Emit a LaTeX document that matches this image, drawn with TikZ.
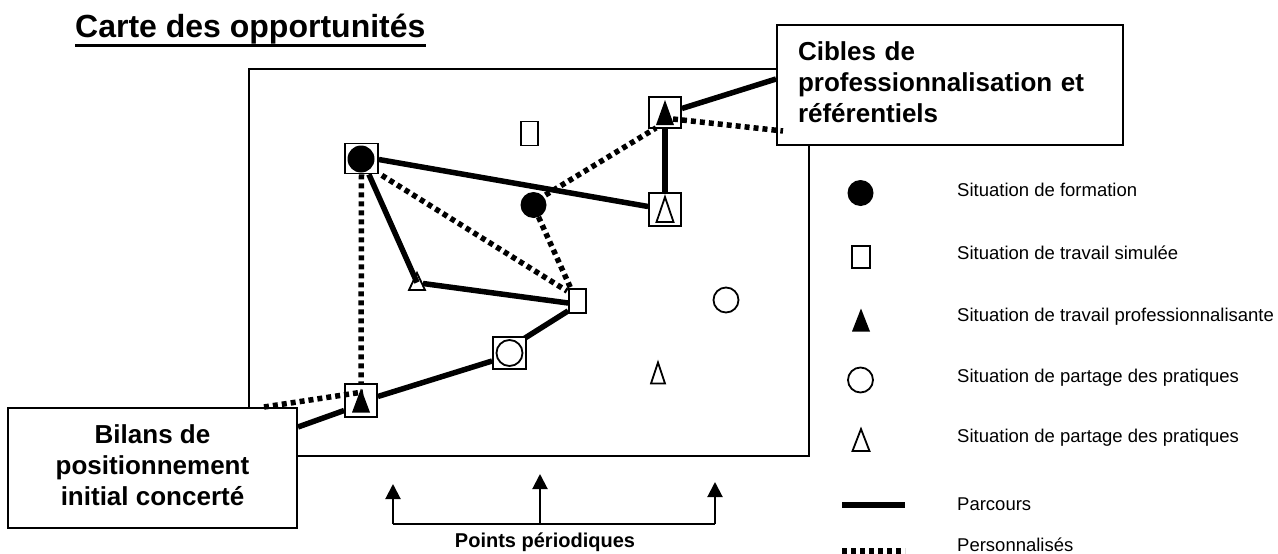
\documentclass[tikz,border=0pt]{standalone}
\usepackage{fontspec}
\setmainfont{Liberation Sans}
\usetikzlibrary{arrows.meta,calc}
\newcommand\filltri[3]{\fill ($(#1)+(-#2,-#3)$) -- ($(#1)+(0,#3)$) -- ($(#1)+(#2,-#3)$) -- cycle;}
\newcommand\opentri[3]{\draw[line width=1.8pt, line join=miter] ($(#1)+(-#2,-#3)$) -- ($(#1)+(0,#3)$) -- ($(#1)+(#2,-#3)$) -- cycle;}
\begin{document}
\begin{tikzpicture}[x=1pt,y=1pt,
  thinline/.style={line width=2pt},
  parcours/.style={line width=5.5pt},
  perso/.style={line width=5.5pt, dash pattern=on 5pt off 4pt},
  sq/.style={draw, line width=1.8pt, fill=white, inner sep=0, minimum width=32pt, minimum height=31pt},
  rbox/.style={draw, line width=1.8pt, fill=white, inner sep=0, minimum width=17pt, minimum height=24pt},
  bigbox/.style={draw, line width=2pt, fill=white, inner sep=0, font=\bfseries\fontsize{26}{31}\selectfont},
  legtext/.style={anchor=west, inner sep=0, font=\fontsize{18.5}{22}\selectfont},
  fdot/.style={circle, fill=black, inner sep=0, minimum size=27pt},
  odot/.style={circle, draw, line width=1.8pt, inner sep=0, minimum size=25pt},
  tip/.style={thinline, -{Triangle[length=15pt,width=15pt]}}
]
\useasboundingbox (0,0) rectangle (1278,-554);

% title
\node[anchor=base west, inner sep=0, font=\bfseries\fontsize{32}{38}\selectfont] (title) at (75,-37) {Carte des opportunités};
\draw[line width=3pt] ($(title.base west)+(0,-8)$) -- ($(title.base east)+(0,-8)$);

% main map rectangle
\node[draw, line width=2pt, inner sep=0, minimum width=560pt, minimum height=387pt] (map) at (528.5,-262) {};

% big boxes
\node[bigbox, minimum width=289pt, minimum height=120pt, align=center] (bilans) at (152.5,-468) {Bilans de\\positionnement\\initial concerté\rule[-6pt]{0pt}{0pt}};
\node[bigbox, minimum width=346pt, minimum height=120pt, text width=304pt, align=left] (cibles) at (950,-85) {Cibles de\\professionnalisation et\\référentiels\rule[-6pt]{0pt}{0pt}};

% squares
\node[sq, minimum width=33pt, minimum height=30pt] (sq1) at (361.5,-158.5) {};
\node[rbox] (r3) at (529.5,-133.5) {};
\node[sq] (sq4) at (665,-112.5) {};
\node[sq, minimum height=33pt] (sq5) at (665,-209.5) {};
\node[rbox] (r7) at (577.5,-301) {};
\node[sq, minimum width=33pt, minimum height=32pt] (sq8) at (509.5,-353) {};
\node[sq, minimum height=33pt] (sq9) at (361,-400.5) {};
\coordinate (t6) at (417,-281.5);
\coordinate (t11) at (658,-373);
\node[fdot, minimum size=26pt] (fc2) at (533.5,-205) {};
\node[odot] (c10) at (726,-300) {};

% parcours (solid)
\draw[parcours] ($(bilans.north east)+(0,-20)$) -- ($(sq9.west)+(0,-10)$);
\draw[parcours] ($(sq9.east)+(0,4)$) -- ($(sq8.west)+(0,-8)$);
\draw[parcours] ($(sq8.north east)+(-2,-2)$) -- ($(r7.south west)+(0,3)$);
\draw[parcours] ($(r7.west)+(0,-2)$) -- ($(t6)+(6,-2)$);
\draw[parcours] ($(t6)+(0,-1)$) -- ($(sq1.south east)+(-10,0)$);
\draw[parcours] ($(sq1.east)+(0,-1)$) -- ($(sq5.west)+(0,3)$);
\draw[parcours] (sq5.north) -- (sq4.south);
\draw[parcours] ($(sq4.east)+(0,4)$) -- ($(cibles.north west)+(0,-55)$);

% personnalises (dotted)
\draw[perso] (sq1.south) -- (sq9.north);
\draw[perso] ($(sq1.south east)+(3,-1)$) -- ($(r7.north west)+(-1,-3)$);
\draw[perso] ($(fc2)+(5,-12)$) -- ($(r7.north west)+(3,-1)$);
\draw[perso] ($(fc2)+(12,10)$) -- ($(sq4.south west)+(8,1)$);
\draw[perso] ($(sq4)+(8,-6.5)$) -- ($(cibles.south west)+(7,15)$);
\draw[perso] ($(bilans.north west)+(257,0)$) -- ($(sq9)+(2,8.5)$);

% symbols in squares
\node[fdot] (m1) at (361,-159) {};
\filltri{sq4}{9}{12.5}
\opentri{sq5}{8.5}{12.5}
\node[odot, minimum size=26pt] (m8) at (509.5,-353) {};
\filltri{sq9}{9}{12}
\opentri{t6}{8}{8.5}
\opentri{t11}{7}{10.5}

% points periodiques
\coordinate (pl) at (393,-524);
\coordinate (pm) at (540,-524);
\coordinate (pr) at (715,-524);
\coordinate (tl) at (393,-484);
\coordinate (tm) at (540,-474);
\coordinate (tr) at (715,-482);
\draw[thinline] (pl) -- (pr);
\draw[tip] (pl) -- (tl);
\draw[tip] (pm) -- (tm);
\draw[tip] (pr) -- (tr);
\node[inner sep=0, font=\bfseries\fontsize{20}{24}\selectfont] (pp) at (545,-542) {Points périodiques};

% legend
\node[fdot, minimum size=26pt] (l1) at (860.5,-193) {};
\node[rbox, minimum width=18pt, minimum height=22pt] (l2) at (861,-257) {};
\coordinate (l3) at (861,-320);
\filltri{l3}{9}{11.5}
\node[odot] (l4) at (860.5,-380) {};
\coordinate (l5) at (861,-440);
\opentri{l5}{8.5}{11}
\coordinate (l6a) at (842,-505);
\coordinate (l6b) at (905,-505);
\draw[parcours] (l6a) -- (l6b);
\coordinate (l7a) at (842,-551);
\coordinate (l7b) at (905,-551);
\draw[perso] (l7a) -- (l7b);

\node[legtext] (x1) at (957,-190) {Situation de formation};
\node[legtext] (x2) at (957,-253) {Situation de travail simulée};
\node[legtext] (x3) at (957,-317) {Situation de travail professionnalisante};
\node[legtext] (x4) at (957,-378) {Situation de partage des pratiques};
\node[legtext] (x5) at (957,-438) {Situation de partage des pratiques};
\node[legtext] (x6) at (957,-504) {Parcours};
\node[legtext] (x7) at (957,-545) {Personnalisés};
\end{tikzpicture}
\end{document}
